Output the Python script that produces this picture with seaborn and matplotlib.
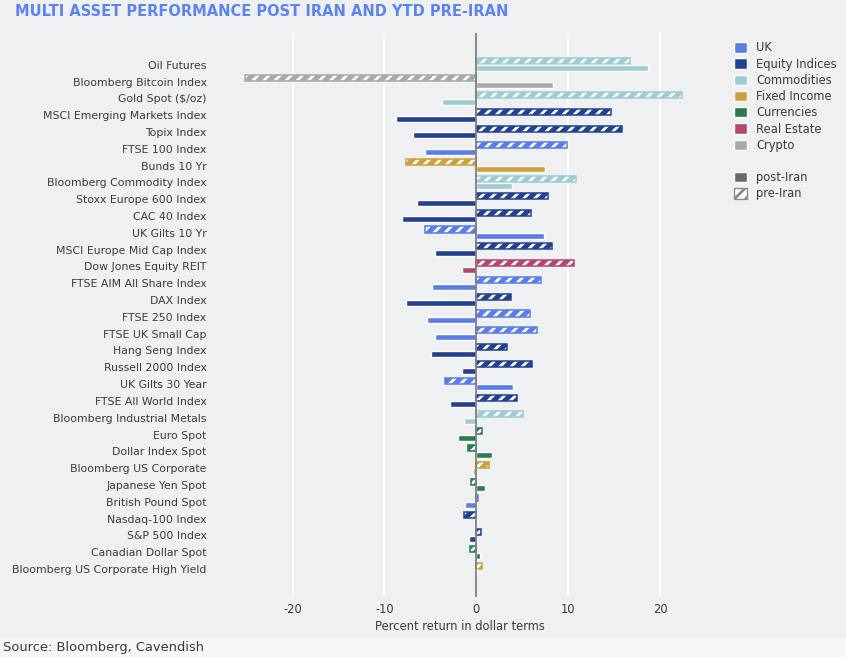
import numpy as np
import pandas as pd
import seaborn as sns
import matplotlib.pyplot as plt
from matplotlib.patches import Patch, Rectangle

# assets from top to bottom
assets = ["Oil Futures", "Bloomberg Bitcoin Index", "Gold Spot ($/oz)",
          "MSCI Emerging Markets Index", "Topix Index", "FTSE 100 Index",
          "Bunds 10 Yr", "Bloomberg Commodity Index", "Stoxx Europe 600 Index",
          "CAC 40 Index", "UK Gilts 10 Yr", "MSCI Europe Mid Cap Index",
          "Dow Jones Equity REIT", "FTSE AIM All Share Index", "DAX Index",
          "FTSE 250 Index", "FTSE UK Small Cap", "Hang Seng Index",
          "Russell 2000 Index", "UK Gilts 30 Year", "FTSE All World Index",
          "Bloomberg Industrial Metals", "Euro Spot", "Dollar Index Spot",
          "Bloomberg US Corporate", "Japanese Yen Spot", "British Pound Spot",
          "Nasdaq-100 Index", "S&P 500 Index", "Canadian Dollar Spot",
          "Bloomberg US Corporate High Yield"]
groups = ["Commodities", "Crypto", "Commodities",
          "Equity Indices", "Equity Indices", "UK",
          "Fixed Income", "Commodities", "Equity Indices",
          "Equity Indices", "UK", "Equity Indices",
          "Real Estate", "UK", "Equity Indices",
          "UK", "UK", "Equity Indices",
          "Equity Indices", "UK", "Equity Indices",
          "Commodities", "Currencies", "Currencies",
          "Fixed Income", "Currencies", "UK",
          "Equity Indices", "Equity Indices", "Currencies",
          "Fixed Income"]
post_iran = [18.7, 8.3, -3.7,
             -8.7, -6.9, -5.6,
             7.5, 3.9, -6.5,
             -8.1, 7.4, -4.5,
             -1.6, -4.8, -7.7,
             -5.4, -4.5, -4.9,
             -1.6, 4.0, -2.9,
             -1.3, -2.0, 1.7,
             -0.4, 1.0, -1.2,
             -0.2, -0.8, 0.4,
             0.05]
pre_iran = [16.7, -25.2, 22.4,
            14.7, 15.9, 9.9,
            -7.6, 10.9, 7.8,
            6.0, -5.6, 8.2,
            10.6, 7.0, 3.8,
            5.8, 6.65, 3.35,
            6.1, -3.4, 4.4,
            5.05, 0.6, -0.85,
            1.4, -0.55, 0.18,
            -1.3, 0.5, -0.7,
            0.65]

group_order = ["UK", "Equity Indices", "Commodities", "Fixed Income",
               "Currencies", "Real Estate", "Crypto"]
palette = {"UK": "#5b7de6", "Equity Indices": "#22418f", "Commodities": "#9dccd2",
           "Fixed Income": "#cba13b", "Currencies": "#2a7b52",
           "Real Estate": "#b4466f", "Crypto": "#a9a9a9"}

bg = "#eff0f2"
text_col = "#3a3a3a"

df = pd.DataFrame({"asset": assets, "group": groups,
                   "post": post_iran, "pre": pre_iran})
df["pos"] = np.arange(len(df))

sns.set_theme(style="white")
plt.rcParams["font.family"] = ["DejaVu Sans"]
plt.rcParams["hatch.linewidth"] = 2.0
plt.rcParams["axes.unicode_minus"] = False

fig = plt.figure(figsize=(8.46, 6.57), dpi=100, facecolor=bg)
# lighter strip behind the source line
fig.patches.append(Rectangle((0, 0), 1, 19 / 657, transform=fig.transFigure,
                             facecolor="#f7f7f8", edgecolor="none", zorder=0))
ax = fig.add_axes([0.259, 0.091, 0.570, 0.859])
ax.set_facecolor(bg)

# pre-Iran (hatched, upper bar of each pair)
sns.barplot(data=df.assign(y=df["pos"] - 0.2), x="pre", y="y", hue="group",
            palette=palette, orient="h", native_scale=True, dodge=False,
            width=0.36, saturation=1, legend=False, ax=ax)
pre_patches = list(ax.patches)
for p in pre_patches:
    col = p.get_facecolor()
    p.set_edgecolor("white")
    p.set_linewidth(0)
    p.set_hatch("///")
    ax.add_patch(Rectangle(p.get_xy(), p.get_width(), p.get_height(),
                           fill=False, edgecolor=col, lw=1.1, zorder=p.get_zorder()))

# post-Iran (solid, lower bar of each pair)
sns.barplot(data=df.assign(y=df["pos"] + 0.2), x="post", y="y", hue="group",
            palette=palette, orient="h", native_scale=True, dodge=False,
            width=0.36, saturation=1, legend=False, ax=ax)

ax.axvline(0, color="#7f7f7f", lw=1.3, zorder=5)
ax.grid(axis="x", color="white", lw=1.2)
ax.grid(axis="y", visible=False)
ax.set_axisbelow(True)
for s in ax.spines.values():
    s.set_visible(False)

ax.set_xlim(-28, 24.5)
ax.set_ylim(len(df) - 1 + 1.68, -1.9)
ax.set_xticks([-20, -10, 0, 10, 20])
ax.set_yticks(df["pos"])
ax.set_yticklabels(df["asset"])
ax.tick_params(axis="y", length=0, pad=9, labelsize=7.8, labelcolor=text_col)
ax.tick_params(axis="x", length=0, pad=4, labelsize=8.3, labelcolor=text_col)
ax.set_ylabel("")
ax.set_xlabel("Percent return in dollar terms", fontsize=8.3, color=text_col, labelpad=3)

handles = [Patch(facecolor=palette[g], label=g) for g in group_order]
handles.append(Patch(visible=False, label=" "))
handles.append(Patch(facecolor="#6b6b6b", label="post-Iran"))
handles.append(Patch(facecolor="white", edgecolor="#8a8a8a", hatch="///", label="pre-Iran"))
fig.legend(handles=handles, loc="upper left", bbox_to_anchor=(724 / 846, 1 - 31 / 657),
           frameon=False, fontsize=8.3, handlelength=1.1, handleheight=1.0,
           labelspacing=0.28, handletextpad=0.8, labelcolor=text_col)

fig.text(15 / 846, 1 - 12 / 657, "MULTI ASSET PERFORMANCE POST IRAN AND YTD PRE-IRAN",
         fontsize=10.5, fontweight="bold", color="#5b84f0", va="center", ha="left")
fig.text(3 / 846, 1 - 647 / 657, "Source: Bloomberg, Cavendish",
         fontsize=9.4, color=text_col, va="center", ha="left")

fig.savefig("out.png", dpi=100, facecolor=bg)
